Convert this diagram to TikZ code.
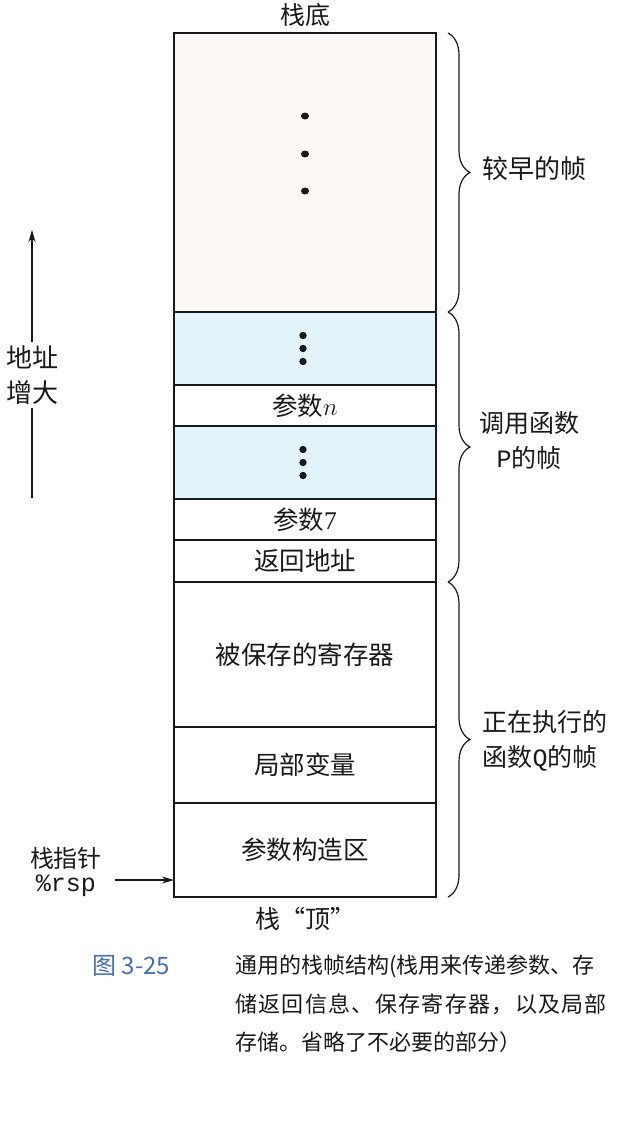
\documentclass[tikz,border=0pt]{standalone}
\usepackage{fontspec}
\setmainfont{Noto Sans CJK SC}
\setmonofont{Liberation Mono}
\newfontfamily\timesfont{Liberation Serif}
\newfontfamily\capwide{Noto Sans CJK SC}[LetterSpace=6]
\usepackage{tikz}
\usetikzlibrary{arrows.meta,positioning,calc,decorations.pathreplacing}
\definecolor{paper}{RGB}{253,249,247}
\definecolor{sky}{RGB}{226,243,250}
\definecolor{figblue}{RGB}{70,110,180}
\definecolor{ink}{RGB}{25,25,25}
\tikzset{
  >={Stealth[length=12pt,width=7pt]},
  cell/.style={draw=ink,line width=1.3pt,fill=#1,minimum width=262pt,
    inner sep=0pt,outer sep=0pt,font=\fontsize{25.5}{28}\selectfont,text=ink},
  cell/.default=white,
  frame brace/.style={draw=ink,line width=1.2pt,
    decorate,decoration={brace,amplitude=22pt}},
  tag/.style={font=\fontsize{25}{35}\selectfont,text=ink,align=left},
  dot/.style={fill=ink},
}

\begin{document}
\begin{tikzpicture}[x=1pt,y=-1pt]
  \useasboundingbox (0,0) rectangle (631,1138);
  % stack cells, top = bottom of the stack
  \node[cell=paper,minimum height=279pt,anchor=north] (early) at (305,33) {};
  \node[cell=sky,minimum height=73pt,below=0pt of early] (dotsA) {};
  \node[cell,minimum height=41pt,below=0pt of dotsA] (argn) {参数$n$};
  \node[cell=sky,minimum height=73pt,below=0pt of argn] (dotsB) {};
  \node[cell,minimum height=41pt,below=0pt of dotsB] (arg7) {参数{\timesfont 7}};
  \node[cell,minimum height=42pt,below=0pt of arg7] (ret) {返回地址};
  \node[cell,minimum height=145pt,below=0pt of ret] (saved) {被保存的寄存器};
  \node[cell,minimum height=76pt,below=0pt of saved] (locals) {局部变量};
  \node[cell,minimum height=94pt,below=0pt of locals] (build) {参数构造区};
  % dots
  \foreach \y in {116,154,191} \fill[dot] (305,\y) ellipse (4 and 3.5);
  \foreach \dy in {-13,0,13} {
    \fill[dot] ($(dotsA.center)+(-2,\dy)$) circle (3.7);
    \fill[dot] ($(dotsB.center)+(-2,\dy)$) circle (3.7);
  }
  \node[font=\fontsize{25}{28}\selectfont,text=ink] (bottom) at (305,15) {栈底};
  \node[font=\fontsize{25}{28}\selectfont,text=ink] (top) at (305,919) {栈“顶”};
  % address grows upward
  \node[tag,align=center,font=\fontsize{26}{35}\selectfont] (grow) at (32,375) {地址\\增大};
  \coordinate (growhi) at (32,230);
  \coordinate (growlo) at (32,498);
  \draw[->,ink,line width=1.2pt] (grow.north) -- (growhi);
  \draw[ink,line width=1.2pt] (grow.south) -- (growlo);
  % stack pointer
  \node[text=ink,align=center,font=\fontsize{24}{24}\selectfont] (sp) at (66,872)
    {栈指针\\{\ttfamily\fontsize{25}{24}\selectfont\%rsp}};
  \coordinate (sptail) at (115,880);
  \draw[->,ink,line width=1.2pt] (sptail) -- (sptail -| build.west);
  % frames
  \draw[frame brace] (448,33) -- (448,312);
  \draw[frame brace] (448,312) -- (448,582);
  \draw[frame brace] (448,582) -- (448,897);
  \node[tag,anchor=west,font=\fontsize{26}{35}\selectfont] (older) at (479,169) {较早的帧};
  \node[tag,align=center] (pframe) at (529,441) {调用函数\\{\ttfamily P}的帧};
  \node[tag,anchor=west] (qframe) at (479,741) {正在执行的\\函数{\ttfamily Q}的帧};
  % caption
  \node[text=figblue,anchor=west,font=\fontsize{24}{24}\selectfont] (fig) at (89,966) {图 3-25};
  \node[text=ink,anchor=north west,align=left,inner sep=0pt,
    font=\fontsize{22}{38.5}\selectfont] (cap) at (235,955)
    {通用的栈帧结构(栈用来传递参数、存\\
     {\capwide 储返回信息、保存寄存器，以及局部}\\
     存储。省略了不必要的部分）};
\end{tikzpicture}
\end{document}
